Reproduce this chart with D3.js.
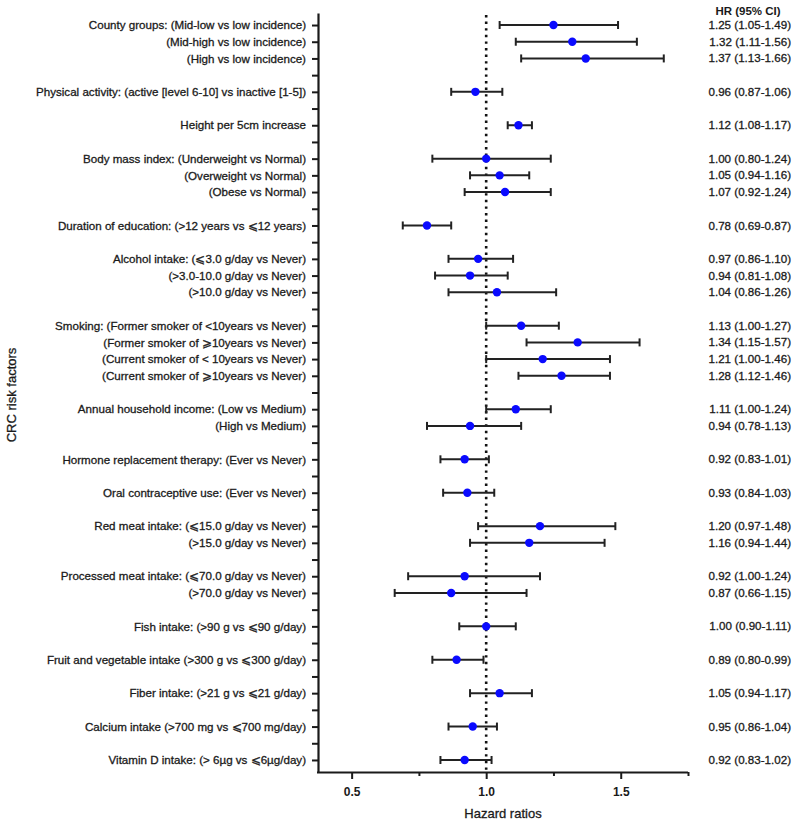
<!DOCTYPE html>
<html>
<head>
<meta charset="utf-8">
<script src="https://cdn.jsdelivr.net/npm/d3@7"></script>
<style>
  html, body { margin: 0; padding: 0; background: #fff; }
  svg { display: block; font-family: "Liberation Sans", Arial, Helvetica, sans-serif; }
  .heavy { stroke: #1a1a1a; stroke-width: 0.3px; paint-order: fill; }
</style>
</head>
<body>
<svg id="chart" width="793" height="827"></svg>
<script>
// ---------- data ----------
const rowLabels = [
  "County groups: (Mid-low vs low incidence)",
  "(Mid-high vs low incidence)",
  "(High vs low incidence)",
  "",
  "Physical activity: (active [level 6-10] vs inactive [1-5])",
  "",
  "Height per 5cm increase",
  "",
  "Body mass index: (Underweight vs Normal)",
  "(Overweight vs Normal)",
  "(Obese vs Normal)",
  "",
  "Duration of education: (>12 years vs \u2a7d12 years)",
  "",
  "Alcohol intake: (\u2a7d3.0 g/day vs Never)",
  "(>3.0-10.0 g/day vs Never)",
  "(>10.0 g/day vs Never)",
  "",
  "Smoking: (Former smoker of <10years vs Never)",
  "(Former smoker of \u2a7e10years vs Never)",
  "(Current smoker of < 10years vs Never)",
  "(Current smoker of \u2a7e10years vs Never)",
  "",
  "Annual household income: (Low vs Medium)",
  "(High vs Medium)",
  "",
  "Hormone replacement therapy: (Ever vs Never)",
  "",
  "Oral contraceptive use: (Ever vs Never)",
  "",
  "Red meat intake: (\u2a7d15.0 g/day vs Never)",
  "(>15.0 g/day vs Never)",
  "",
  "Processed meat intake: (\u2a7d70.0 g/day vs Never)",
  "(>70.0 g/day vs Never)",
  "",
  "Fish intake: (>90 g vs \u2a7d90 g/day)",
  "",
  "Fruit and vegetable intake (>300 g vs \u2a7d300 g/day)",
  "",
  "Fiber intake: (>21 g vs \u2a7d21 g/day)",
  "",
  "Calcium intake (>700 mg vs \u2a7d700 mg/day)",
  "",
  "Vitamin D intake: (> 6\u00b5g vs \u2a7d6\u00b5g/day)"
];

const hr = [1.25,1.32,1.37,null,0.96,null,1.12,null,1.00,1.05,1.07,null,0.78,null,0.97,0.94,1.04,null,
  1.13,1.34,1.21,1.28,null,1.11,0.94,null,0.92,null,0.93,null,1.20,1.16,null,0.92,0.87,null,
  1.00,null,0.89,null,1.05,null,0.95,null,0.92];
const lower = [1.05,1.11,1.13,null,0.87,null,1.08,null,0.80,0.94,0.92,null,0.69,null,0.86,0.81,0.86,null,
  1.00,1.15,1.00,1.12,null,1.00,0.78,null,0.83,null,0.84,null,0.97,0.94,null,0.71,0.66,null,
  0.90,null,0.80,null,0.94,null,0.86,null,0.83];
const upper = [1.49,1.56,1.66,null,1.06,null,1.17,null,1.24,1.16,1.24,null,0.87,null,1.10,1.08,1.26,null,
  1.27,1.57,1.46,1.46,null,1.24,1.13,null,1.01,null,1.03,null,1.48,1.44,null,1.20,1.15,null,
  1.11,null,0.99,null,1.17,null,1.04,null,1.02];
const hrText = ["1.25 (1.05-1.49)","1.32 (1.11-1.56)","1.37 (1.13-1.66)","","0.96 (0.87-1.06)","","1.12 (1.08-1.17)","",
  "1.00 (0.80-1.24)","1.05 (0.94-1.16)","1.07 (0.92-1.24)","","0.78 (0.69-0.87)","",
  "0.97 (0.86-1.10)","0.94 (0.81-1.08)","1.04 (0.86-1.26)","",
  "1.13 (1.00-1.27)","1.34 (1.15-1.57)","1.21 (1.00-1.46)","1.28 (1.12-1.46)","",
  "1.11 (1.00-1.24)","0.94 (0.78-1.13)","","0.92 (0.83-1.01)","","0.93 (0.84-1.03)","",
  "1.20 (0.97-1.48)","1.16 (0.94-1.44)","","0.92 (1.00-1.24)","0.87 (0.66-1.15)","",
  "1.00 (0.90-1.11)","","0.89 (0.80-0.99)","","1.05 (0.94-1.17)","","0.95 (0.86-1.04)","","0.92 (0.83-1.02)"];
const majorTicks = [0.5, 1.0, 1.5];
const minorTicks = [0.75, 1.25, 1.75];
const refValue = 1.0;
const xTitle = "Hazard ratios";
const yTitle = "CRC risk factors";
const colTitle = "HR (95% CI)";

// ---------- layout ----------
const svg = d3.select("#chart");
const plotLeft = 318, plotRight = 688, plotTop = 13, plotBottom = 772;
const ink = "#1a1a1a";

const x = d3.scaleLinear().domain([0.375, 1.75]).range([plotLeft, plotRight]);
const y = d3.scalePoint().domain(d3.range(rowLabels.length)).range([plotTop, plotBottom]).padding(0.72);

const rows = rowLabels.map((l, i) => ({i, label: l, hr: hr[i], lo: lower[i], hi: upper[i], txt: hrText[i]}));
const dataRows = rows.filter(d => d.hr != null);

// reference line
svg.append("line")
  .attr("x1", x(refValue)).attr("x2", x(refValue))
  .attr("y1", plotTop + 2).attr("y2", plotBottom)
  .attr("stroke", "#111").attr("stroke-width", 2.6)
  .attr("stroke-dasharray", "2.4,4.2");

// y axis
const yAxis = svg.append("g").attr("transform", `translate(${plotLeft},0)`)
  .call(d3.axisLeft(y).tickSize(6).tickSizeOuter(0).tickPadding(6).tickFormat(i => rowLabels[i]));
yAxis.selectAll("text").attr("font-size", "11.6px").attr("fill", ink).attr("class", "heavy")
  .attr("font-family", "Liberation Sans, Arial, sans-serif");
yAxis.selectAll("line").attr("stroke", ink).attr("stroke-width", 2);
yAxis.select(".domain").attr("stroke", ink).attr("stroke-width", 2.2);

// x axis (major + minor)
const xAxisMajor = svg.append("g").attr("transform", `translate(0,${plotBottom})`)
  .call(d3.axisBottom(x).tickValues(majorTicks).tickSize(7).tickSizeOuter(0).tickPadding(8).tickFormat(d3.format(".1f")));
xAxisMajor.selectAll("text").attr("font-size", "12px").attr("font-weight", "bold").attr("fill", ink)
  .attr("font-family", "Liberation Sans, Arial, sans-serif");
xAxisMajor.selectAll("line").attr("stroke", ink).attr("stroke-width", 2);
xAxisMajor.select(".domain").attr("stroke", ink).attr("stroke-width", 2.2)
  .attr("d", `M${plotLeft - 1},0.5H${plotRight}`);
const xAxisMinor = svg.append("g").attr("transform", `translate(0,${plotBottom})`)
  .call(d3.axisBottom(x).tickValues(minorTicks).tickSize(4).tickFormat(""));
xAxisMinor.select(".domain").remove();
xAxisMinor.selectAll("line").attr("stroke", ink).attr("stroke-width", 2);

// error bars
const cap = 4;
const g = svg.append("g");
const bars = g.selectAll("g.bar").data(dataRows).join("g").attr("class", "bar");
bars.append("line")
  .attr("x1", d => x(d.lo)).attr("x2", d => x(d.hi))
  .attr("y1", d => y(d.i)).attr("y2", d => y(d.i))
  .attr("stroke", "#222").attr("stroke-width", 2);
bars.append("line")
  .attr("x1", d => x(d.lo)).attr("x2", d => x(d.lo))
  .attr("y1", d => y(d.i) - cap).attr("y2", d => y(d.i) + cap)
  .attr("stroke", "#222").attr("stroke-width", 2);
bars.append("line")
  .attr("x1", d => x(d.hi)).attr("x2", d => x(d.hi))
  .attr("y1", d => y(d.i) - cap).attr("y2", d => y(d.i) + cap)
  .attr("stroke", "#222").attr("stroke-width", 2);
bars.append("circle")
  .attr("cx", d => x(d.hr)).attr("cy", d => y(d.i)).attr("r", 4.2)
  .attr("fill", "#0a0aff");

// HR text column
svg.append("text").attr("x", 748).attr("y", 15)
  .attr("text-anchor", "middle").attr("font-size", "11.5px").attr("font-weight", "bold").attr("fill", ink)
  .text(colTitle);
svg.append("g").selectAll("text").data(dataRows).join("text")
  .attr("class", "heavy")
  .attr("x", 791).attr("y", d => y(d.i)).attr("dy", "0.35em")
  .attr("text-anchor", "end").attr("font-size", "11.6px").attr("fill", ink)
  .text(d => d.txt);

// titles
svg.append("text").attr("x", (plotLeft + plotRight) / 2).attr("y", 818).attr("class", "heavy")
  .attr("text-anchor", "middle").attr("font-size", "13px").attr("fill", ink).text(xTitle);
svg.append("text").attr("transform", "translate(16,395) rotate(-90)").attr("class", "heavy")
  .attr("text-anchor", "middle").attr("font-size", "13px").attr("fill", ink).text(yTitle);
</script>
</body>
</html>
